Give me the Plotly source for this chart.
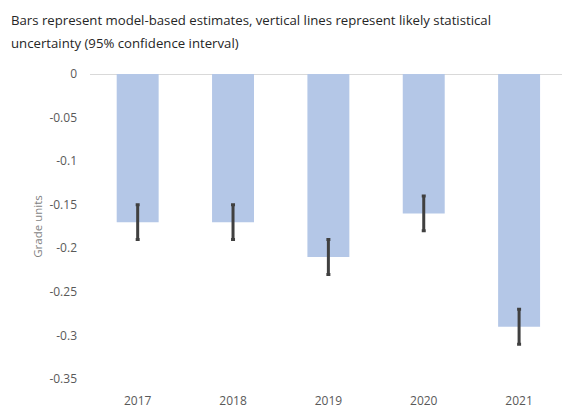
import plotly.graph_objects as go

years = ["2017", "2018", "2019", "2020", "2021"]
estimates = [-0.17, -0.17, -0.21, -0.16, -0.29]
ci_half = [0.02, 0.02, 0.02, 0.02, 0.02]
y_ticks = [0, -0.05, -0.1, -0.15, -0.2, -0.25, -0.3, -0.35]
y_ticklabels = ["0", "-0.05", "-0.1", "-0.15", "-0.2", "-0.25", "-0.3", "-0.35"]
title_lines = [
    "Bars represent model-based estimates, vertical lines represent likely statistical",
    "uncertainty (95% confidence interval)",
]

FONT = "Open Sans"
H = 409
T, B = 74, 28
PH = H - T - B

fig = go.Figure()
fig.add_trace(go.Bar(
    x=years, y=estimates,
    marker=dict(color="#b4c7e7", line=dict(width=0)),
    error_y=dict(type="data", array=ci_half, visible=True,
                 color="#404040", thickness=3, width=2),
))

annotations = []
for line, cy in zip(title_lines, [20, 43]):
    annotations.append(dict(
        text=line, xref="paper", yref="paper",
        x=-90/472, y=1 + (T - cy)/PH,
        xanchor="left", yanchor="middle", align="left", showarrow=False,
        font=dict(family=FONT, size=13.2, color="#262626"),
        xshift=9,
    ))

fig.update_layout(
    width=562, height=H,
    margin=dict(l=90, r=0, t=T, b=B),
    paper_bgcolor="white", plot_bgcolor="white",
    bargap=0.56,
    showlegend=False,
    font=dict(family=FONT, color="#595959", size=12),
    xaxis=dict(range=[-0.5, 4.45], showgrid=False, showline=False, ticks="",
               ticklabelstandoff=13, tickfont=dict(size=12, color="#595959")),
    yaxis=dict(range=[-0.35, 0], tickvals=y_ticks, ticktext=y_ticklabels,
               showgrid=False, showline=False, zeroline=True,
               zerolinecolor="#d9d9d9", zerolinewidth=1,
               ticks="", ticklabelstandoff=12,
               tickfont=dict(size=12, color="#595959"),
               title=dict(text="Grade units", font=dict(size=11.5, color="#7f7f7f"),
                          standoff=4)),
    annotations=annotations,
)

fig.write_html("out.html", config={"displayModeBar": False},
               post_script="document.body.style.margin='0';")
